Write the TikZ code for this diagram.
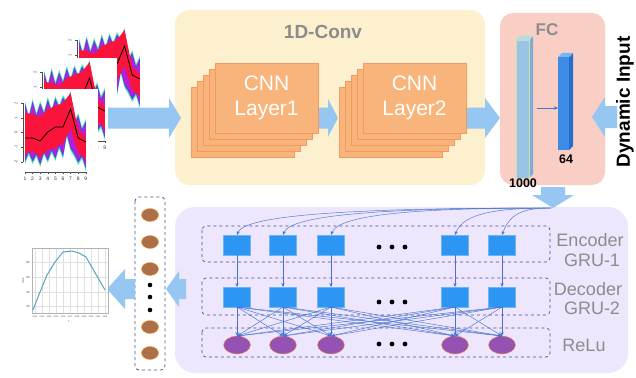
\documentclass[tikz,border=0pt]{standalone}
\usepackage{fontspec}
\setmainfont{Liberation Sans}
\usetikzlibrary{arrows.meta,shapes.geometric,calc}

\definecolor{convbg}{RGB}{253,240,206}
\definecolor{fcbg}{RGB}{249,206,196}
\definecolor{grubg}{RGB}{238,230,252}
\definecolor{cnnfill}{RGB}{248,180,122}
\definecolor{cnnedge}{RGB}{240,155,95}
\definecolor{arrowblue}{RGB}{150,198,242}
\definecolor{sqblue}{RGB}{45,150,242}
\definecolor{purp}{RGB}{150,82,178}
\definecolor{brownu}{RGB}{172,112,72}
\definecolor{dashc}{RGB}{60,85,145}
\definecolor{linec}{RGB}{70,115,210}
\definecolor{labgray}{RGB}{140,140,140}
\definecolor{barA}{RGB}{157,195,228}
\definecolor{barAside}{RGB}{128,172,212}
\definecolor{barAtop}{RGB}{185,215,235}
\definecolor{barAedge}{RGB}{190,228,190}
\definecolor{barB}{RGB}{62,140,232}
\definecolor{barBside}{RGB}{40,110,200}
\definecolor{barBtop}{RGB}{120,180,240}
\definecolor{envgreen}{RGB}{100,225,180}
\definecolor{envblue}{RGB}{70,70,230}
\definecolor{envmag}{RGB}{185,30,215}
\definecolor{envred}{RGB}{250,20,60}
\definecolor{curvec}{RGB}{85,165,190}

% envelope of a time-series plot, #1 = inward offset
\newcommand\envpath[1]{(3,4+#1) -- (6.8,18+#1) -- (10.6,2+#1) -- (14.4,16+#1) -- (18.2,4+#1) -- (22,14+#1) -- (25.8,0+#1) -- (29.6,12+#1) -- (33.4,-1+#1) -- (37.2,8+#1) -- (41,-2+#1) -- (44.8,4+#1) -- (48.6,-6+#1) -- (52.4,24+#1) -- (56.2,16+#1) -- (60,30+#1) -- (63.8,22+#1) -- (63.8,74-#1) -- (60,62-#1) -- (56.2,68-#1) -- (52.4,60-#1) -- (48.6,54-#1) -- (44.8,40-#1) -- (41,62-#1) -- (37.2,52-#1) -- (33.4,64-#1) -- (29.6,56-#1) -- (25.8,66-#1) -- (22,58-#1) -- (18.2,70-#1) -- (14.4,60-#1) -- (10.6,67-#1) -- (6.8,58-#1) -- (3,67-#1) -- cycle}

\newcommand\tsplot{%
  \fill[white] (-18,-8) rectangle (76,92);
  \fill[envgreen] \envpath{0};
  \fill[envblue] \envpath{2.5};
  \fill[envmag] \envpath{5};
  \fill[envred] (3,16) -- (10.6,17) -- (18.2,20) -- (25.8,12) -- (33.4,9) -- (41,6) -- (48.6,-4) -- (56.2,33) -- (63.8,40) -- (63.8,62) -- (56.2,56) -- (48.6,32) -- (41,46) -- (33.4,51) -- (25.8,53) -- (18.2,60) -- (10.6,54) -- (3,57) -- cycle;
  \draw[black,line width=0.8pt] (3,41) -- (10.6,41) -- (18.2,44) -- (25.8,35) -- (33.4,30) -- (41,30) -- (48.6,12) -- (56.2,41) -- (63.8,45);
  \draw[black!70,line width=0.4pt] (1,6) -- (1,65);
  \foreach \yy/\tl in {6/2,21/1,35/0,50/-1,65/-2}
    {\draw[black!70,line width=0.4pt] (1,\yy) -- (-1.5,\yy);
     \node[rotate=90,font=\fontsize{4}{4}\selectfont,text=black!70] at (-6,\yy) {\tl};}
  \draw[black!70,line width=0.4pt] (3,75) -- (63.8,75);
  \foreach \k in {1,...,9}
    {\draw[black!70,line width=0.4pt] ({3+(\k-1)*7.6},75) -- ({3+(\k-1)*7.6},77);
     \node[font=\fontsize{5}{5}\selectfont,text=black!80] at ({3+(\k-1)*7.6},82) {\k};}
}

\newcommand\bigharrow[6]{% tail x, head base x, tip x, centre y, shaft half, head half
  \fill[arrowblue] (#1,#4-#5) -- (#2,#4-#5) -- (#2,#4-#6) -- (#3,#4) -- (#2,#4+#6) -- (#2,#4+#5) -- (#1,#4+#5) -- cycle;}
\newcommand\bigvarrow[6]{% tail y, head base y, tip y, centre x, shaft half, head half
  \fill[arrowblue] (#4-#5,#1) -- (#4-#5,#2) -- (#4-#6,#2) -- (#4,#3) -- (#4+#6,#2) -- (#4+#5,#2) -- (#4+#5,#1) -- cycle;}

\begin{document}
\begin{tikzpicture}[x=1pt,y=-1pt,
  every node/.style={inner sep=0pt,outer sep=0pt},
  cnnlayer/.style={rectangle,fill=cnnfill,draw=cnnedge,line width=0.6pt,minimum width=103pt,minimum height=70pt},
  gruunit/.style={rectangle,fill=sqblue,draw=sqblue!70!white,line width=0.4pt,minimum width=27pt,minimum height=20pt},
  reluunit/.style={ellipse,fill=purp,draw=orange!70,line width=0.4pt,minimum width=27pt,minimum height=18pt},
  outunit/.style={ellipse,fill=brownu,draw=orange!80,line width=0.4pt,minimum width=17pt,minimum height=13pt},
  dashbox/.style={draw=dashc,dashed,line width=0.7pt,rounded corners=4pt},
  thinarrow/.style={draw=linec,line width=0.45pt,-{Stealth[length=4pt,width=3.2pt]}},
  sidelabel/.style={text=labgray,font=\fontsize{18}{21}\selectfont},
  cnntext/.style={text=white,align=center,font=\fontsize{21}{25}\selectfont},
  dotc/.style={fill=black}
]
\useasboundingbox (0,0) rectangle (636,377);
\fill[white] (0,0) rectangle (636,377);

% ---------- input plots ----------
\begin{scope}[shift={(76,34)}]\tsplot\end{scope}
\begin{scope}[shift={(41,66)}]\tsplot\end{scope}
\begin{scope}[shift={(22,97)}]\tsplot\end{scope}

% ---------- panels ----------
\fill[convbg,rounded corners=15pt] (175,10) rectangle (485,185);
\fill[fcbg,rounded corners=13pt] (500,13) rectangle (605,185);
\node[text=labgray,font=\bfseries\fontsize{19}{21}\selectfont] (convtitle) at (323,32) {1D-Conv};
\node[text=labgray,font=\bfseries\fontsize{17}{19}\selectfont] (fctitle) at (547,30) {FC};

% big arrows top row
\bigharrow{108}{169}{181}{118}{10.5}{20}
\bigharrow{319}{328}{338}{118}{10.5}{19}

% CNN stack 1
\foreach \k in {4,3,2,1}
  \node[cnnlayer] at ({266.5-6*\k},{98+6*\k}) {};
\node[cnnlayer] (cnn1) at (266.5,98) {};
\node[cnntext] at (cnn1) {CNN\\Layer1};

% CNN stack 2
\foreach \k in {4,3,2,1}
  \node[cnnlayer] at ({414.5-6*\k},{98+6*\k}) {};
\node[cnnlayer] (cnn2) at (414.5,98) {};
\node[cnntext] at (cnn2) {CNN\\Layer2};

\bigharrow{467}{485}{500}{118}{10.5}{20}
\bigharrow{617}{605}{592}{117}{11}{20}

% FC bars
\fill[barAside] (529,40) -- (533,36) -- (533,174) -- (529,178) -- cycle;
\filldraw[fill=barAtop,draw=barAedge,line width=0.5pt] (516,40) -- (520,36) -- (533,36) -- (529,40) -- cycle;
\node[rectangle,fill=barA,draw=barAedge,line width=0.5pt,minimum width=13pt,minimum height=138pt] (bar1000) at (522.5,109) {};
\fill[barBside] (569,57) -- (573,53) -- (573,146) -- (569,150) -- cycle;
\fill[barBtop] (558,57) -- (562,53) -- (573,53) -- (569,57) -- cycle;
\node[rectangle,fill=barB,minimum width=11pt,minimum height=93pt] (bar64) at (563.5,103.5) {};
\coordinate (fcfrom) at (537,108);
\draw[linec,line width=0.6pt,-{Stealth[length=4pt,width=3.5pt]}] (fcfrom) -- (bar64.west |- fcfrom);
\node[font=\bfseries\fontsize{12.5}{14}\selectfont] (n1000) at (523,183) {1000};
\node[font=\bfseries\fontsize{12.5}{14}\selectfont] (n64) at (566,159) {64};

\node[rotate=90,font=\bfseries\fontsize{19}{21}\selectfont] (dyn) at (625,102) {Dynamic Input};

% ---------- bottom panel ----------
\fill[grubg,rounded corners=20pt] (175,207) rectangle (628,373);
\bigvarrow{187}{195}{208}{553}{12}{21}
\bigharrow{186}{179}{166}{289}{10}{18}

\draw[dashbox] (202,226) rectangle (550,262);
\draw[dashbox] (202,278) rectangle (550,315);
\draw[dashbox] (202,328) rectangle (550,357);

\foreach \i/\x in {1/237,2/283,3/331,4/455,5/502} {
  \node[gruunit] (e\i) at (\x,245) {};
  \node[gruunit] (d\i) at (\x,297) {};
  \node[reluunit] (r\i) at (\x,345) {};
}
\foreach \yy in {247,302,344}
  \foreach \x in {379,392,405}
    \fill[dotc] (\x,\yy) circle (2.4pt);

\coordinate (fs) at (551,208);
\foreach \i in {1,...,5}
  \draw[thinarrow] (fs) .. controls ($(fs)!0.55!(fs -| e\i.north)$) and ($(e\i.north)+(8,-22)$) .. (e\i.north);
\foreach \i in {1,...,5}
  \draw[thinarrow] (e\i) -- (d\i);
\foreach \i in {1,...,5}
  \foreach \j in {1,...,5}
    \draw[thinarrow] (d\i.south) -- (r\j.north);

\node[sidelabel] (lenc) at (590,240) {Encoder};
\node[sidelabel] (lg1) at (592,260) {GRU-1};
\node[sidelabel] (ldec) at (588,289) {Decoder};
\node[sidelabel] (lg2) at (592,308) {GRU-2};
\node[sidelabel] (lrelu) at (584,345) {ReLu};

% ---------- output column ----------
\draw[dashbox,fill=white,line width=0.8pt] (135,197) rectangle (165,370);
\foreach \i/\yy in {1/215,2/242,3/269,4/327,5/353}
  \node[outunit] (o\i) at (150,\yy) {};
\foreach \yy in {285,297,310}
  \fill[dotc] (150,\yy) circle (2.3pt);

\bigharrow{135}{125}{107}{289}{10}{20}

% ---------- output plot ----------
\fill[white] (32,248) rectangle (108,313);
\foreach \yy in {262,277,292,306}
  \draw[black!12,line width=0.4pt] (32,\yy) -- (108,\yy);
\foreach \k in {0,...,10}
  \draw[black!12,line width=0.4pt] ({35+\k*7},248) -- ({35+\k*7},313);
\draw[black!30,line width=0.5pt] (32,248) rectangle (108,313);
\draw[curvec,line width=1pt] (33,310) -- (40,292) -- (47,275) -- (55,262) -- (63,252) -- (72,251) -- (79,253) -- (86,257) -- (105,290);
\foreach \yy/\tl in {262/80,277/60,292/40,306/20}
  \node[font=\fontsize{3}{3}\selectfont,text=black!70] at (28,\yy) {\tl};
\foreach \k/\tl in {0/2012,1/2013,2/2014,3/2015,4/2016,5/2017,6/2018,7/2019,8/2020,9/2021,10/2022}
  \node[font=\fontsize{2.2}{3}\selectfont,text=black!70] at ({35+\k*7},316.5) {\tl};
\node[font=\fontsize{3}{3}\selectfont,text=black!70] at (69,322) {t};
\node[rotate=90,font=\fontsize{2.5}{3}\selectfont,text=black!70] at (23,281) {value};

\end{tikzpicture}
\end{document}
